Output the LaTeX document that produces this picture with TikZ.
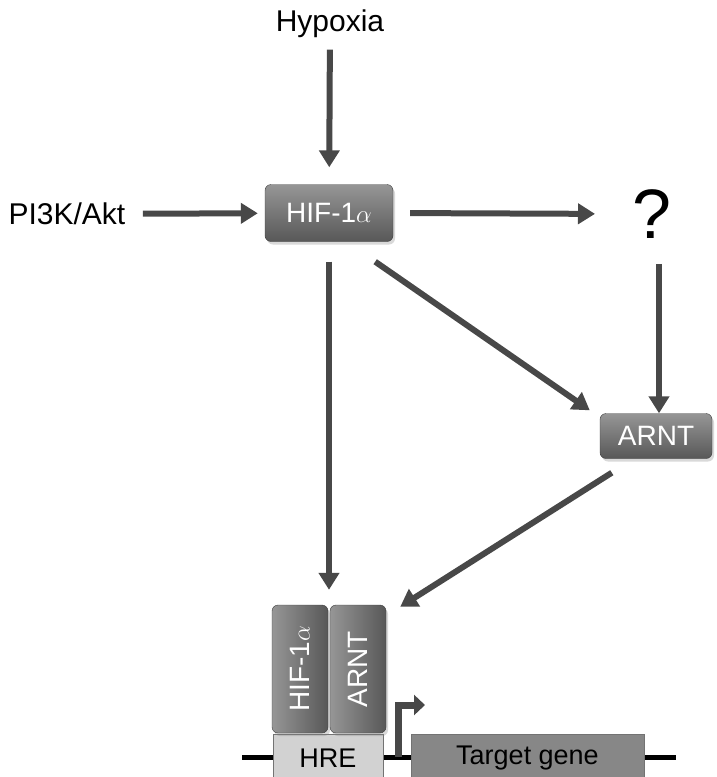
\documentclass[tikz,border=0pt]{standalone}
\usepackage{fontspec}
\setmainfont{Liberation Sans}
\usetikzlibrary{arrows.meta,positioning,shadows,calc}
\definecolor{myarrow}{RGB}{72,72,72}
\definecolor{mytop}{RGB}{150,150,150}
\definecolor{mybot}{RGB}{88,88,88}
\definecolor{myhre}{RGB}{210,210,210}
\definecolor{mygene}{RGB}{135,135,135}

\begin{document}
\begin{tikzpicture}[x=1pt,y=-1pt,
  gbox/.style={rounded corners=6pt,draw=mybot!70!black,top color=mytop,bottom color=mybot,
    text=white,font=\fontsize{28}{32}\selectfont,
    drop shadow={opacity=0.3,shadow xshift=2pt,shadow yshift=-3pt}},
  vbox/.style={gbox,rotate=90,shading angle=90,minimum width=128pt,minimum height=56pt},
  lbl/.style={font=\fontsize{30}{36}\selectfont},
  arr/.style={line width=6pt,draw=myarrow,-{Triangle[length=17pt,width=20pt]}},
  dnabox/.style={draw=black!55,font=\fontsize{27}{32}\selectfont,minimum height=48pt,inner sep=0pt}]

  \useasboundingbox (0,0) rectangle (717,777);

  \node[lbl] (hyp) at (330,24) {Hypoxia};
  \node[lbl,anchor=west] (pik) at (5,214) {PI3K/Akt};
  \node[gbox,minimum width=128pt,minimum height=57pt] (hif) at (329,213) {HIF-1$\alpha$};
  \node[font=\fontsize{70}{80}\selectfont] (q) at (652,214) {?};
  \node[gbox,minimum width=112pt,minimum height=45pt] (arnt) at (656,436) {ARNT};

  % DNA with HRE and target gene
  \coordinate (dnaL) at (242,757);
  \coordinate (dnaR) at (676,757);
  \draw[line width=5pt] (dnaL) -- (dnaR);
  \node[dnabox,fill=myhre,minimum width=110pt] (hre) at (328,758) {HRE};
  \node[dnabox,fill=mygene,minimum width=233pt] (gene) at (527.5,758) {Target gene};

  % bound complex
  \node[vbox] (chif) at (300,669) {HIF-1$\alpha$};
  \node[vbox] (carnt) at (358,669) {ARNT};

  % transcription start
  \coordinate (tss) at (398,757);
  \coordinate (tssend) at (425,705);
  \draw[line width=7pt,draw=myarrow,-{Triangle[length=11pt,width=20pt]}] (tss) |- (tssend);

  % arrows
  \draw[arr,shorten <=8pt,shorten >=17pt] (hyp) -- (hif);
  \draw[arr,shorten <=14pt,shorten >=7pt] (pik) -- (hif);
  \draw[arr,shorten <=17pt,shorten >=34pt] (hif.east) -- (q.west);
  \draw[arr,shorten <=22pt] ($(q.south -| arnt.north)+(3,0)$) -- ($(arnt.north)+(3,0)$);
  \draw[arr] ($(hif.south east)+(-18,20)$) -- ($(arnt.north west)+(-10,-3)$);
  \draw[arr,shorten <=20pt,shorten >=15pt] (hif.south) -- (hif.south |- chif.east);
  \draw[arr] ($(arnt.south west)+(12,14)$) -- ($(carnt.south east)+(14,2)$);
\end{tikzpicture}
\end{document}
